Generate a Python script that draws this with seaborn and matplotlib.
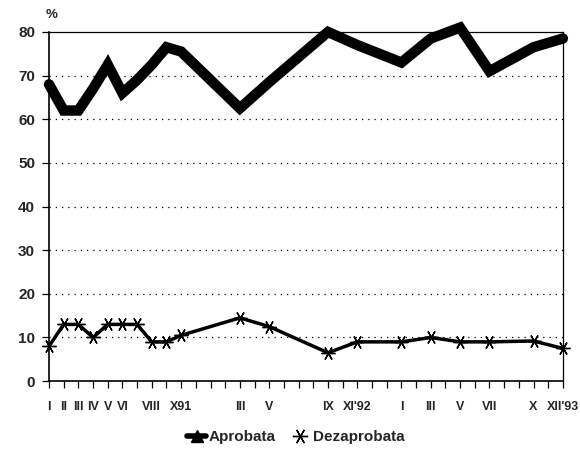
import pandas as pd
import seaborn as sns
import matplotlib.pyplot as plt
from matplotlib.lines import Line2D

# Survey data (month positions I'91 .. XII'93 on a 36-slot category axis)
survey_pos = [0, 1, 2, 3, 4, 5, 6, 7, 8, 9, 13, 15, 19, 21, 24, 26, 28, 30, 33, 35]
aprobata = [68, 62, 62, 67, 72.5, 66, 69, 72.5, 76.5, 75.5,
            62.5, 68.5, 80, 77, 73, 78.5, 81, 71, 76.5, 78.5]
dezaprobata = [8, 13, 13, 10, 13, 13, 13, 9, 9, 10.5,
               14.5, 12.5, 6.5, 9, 9, 10, 9, 9, 9.2, 7.5]

n_slots = 36
tick_pos = [0, 1, 2, 3, 4, 5, 7, 9, 13, 15, 19, 21, 24, 26, 28, 30, 33, 35]
tick_labels = ['I', 'II', 'III', 'IV', 'V', 'VI', 'VIII', 'X91', 'III', 'V',
               'IX', "XI'92", 'I', 'III', 'V', 'VII', 'X', "XII'93"]
y_ticks = [0, 10, 20, 30, 40, 50, 60, 70, 80]

df = pd.DataFrame({
    'pos': survey_pos * 2,
    'val': aprobata + dezaprobata,
    'serie': ['Aprobata'] * len(aprobata) + ['Dezaprobata'] * len(dezaprobata),
})

sns.set_style("white")
plt.rcParams['font.family'] = ['Liberation Sans', 'DejaVu Sans']
plt.rcParams['font.weight'] = 'bold'

fig = plt.figure(figsize=(5.8, 4.5), dpi=100)
ax = fig.add_axes([0.0845, 0.153, 0.886, 0.776])

star = (6, 2, 90)

sns.lineplot(data=df[df.serie == 'Aprobata'], x='pos', y='val', ax=ax,
             color='black', linewidth=7.5, solid_joinstyle='miter',
             clip_on=False, legend=False)
sns.lineplot(data=df[df.serie == 'Dezaprobata'], x='pos', y='val', ax=ax,
             color='black', linewidth=2.5, marker=star, markersize=10,
             markeredgewidth=1.0, markeredgecolor='black',
             clip_on=False, legend=False)

# axes
ax.set_xlim(0, n_slots - 1)
ax.set_ylim(0, 80)
ax.set_yticks(y_ticks)
ax.set_yticklabels([str(v) for v in y_ticks], fontsize=11, fontweight='bold')
labels = {p: l for p, l in zip(tick_pos, tick_labels)}
ax.set_xticks(range(n_slots))
ax.set_xticklabels([labels.get(i, '') for i in range(n_slots)],
                   fontsize=9, fontweight='bold')
ax.tick_params(axis='both', direction='out', length=5, width=0.9,
               color='black', bottom=True, left=True)
ax.tick_params(axis='x', pad=9)
ax.tick_params(axis='y', pad=5)
ax.set_xlabel('')
ax.set_ylabel('')

for s in ax.spines.values():
    s.set_color('black')
    s.set_linewidth(0.9)
ax.spines['left'].set_linewidth(1.2)
ax.spines['bottom'].set_linewidth(1.2)

for y in y_ticks[1:-1]:
    ax.axhline(y, color='black', linewidth=0.9, linestyle=(0, (1, 4)), zorder=0)

ax.text(-0.2, 82.5, '%', fontsize=9.5, fontweight='bold', ha='left', va='bottom')

handles = [
    Line2D([], [], color='black', linewidth=4, marker='^', markersize=8),
    Line2D([], [], color='none', marker=star, markersize=11,
           markeredgecolor='black', markeredgewidth=1.0),
]
fig.legend(handles, ['Aprobata', 'Dezaprobata'], loc='center',
           bbox_to_anchor=(0.51, 0.028), ncol=2, frameon=False,
           fontsize=11, handlelength=1.2, handletextpad=0.2,
           columnspacing=1.0)

fig.savefig('out.png', dpi=100)
